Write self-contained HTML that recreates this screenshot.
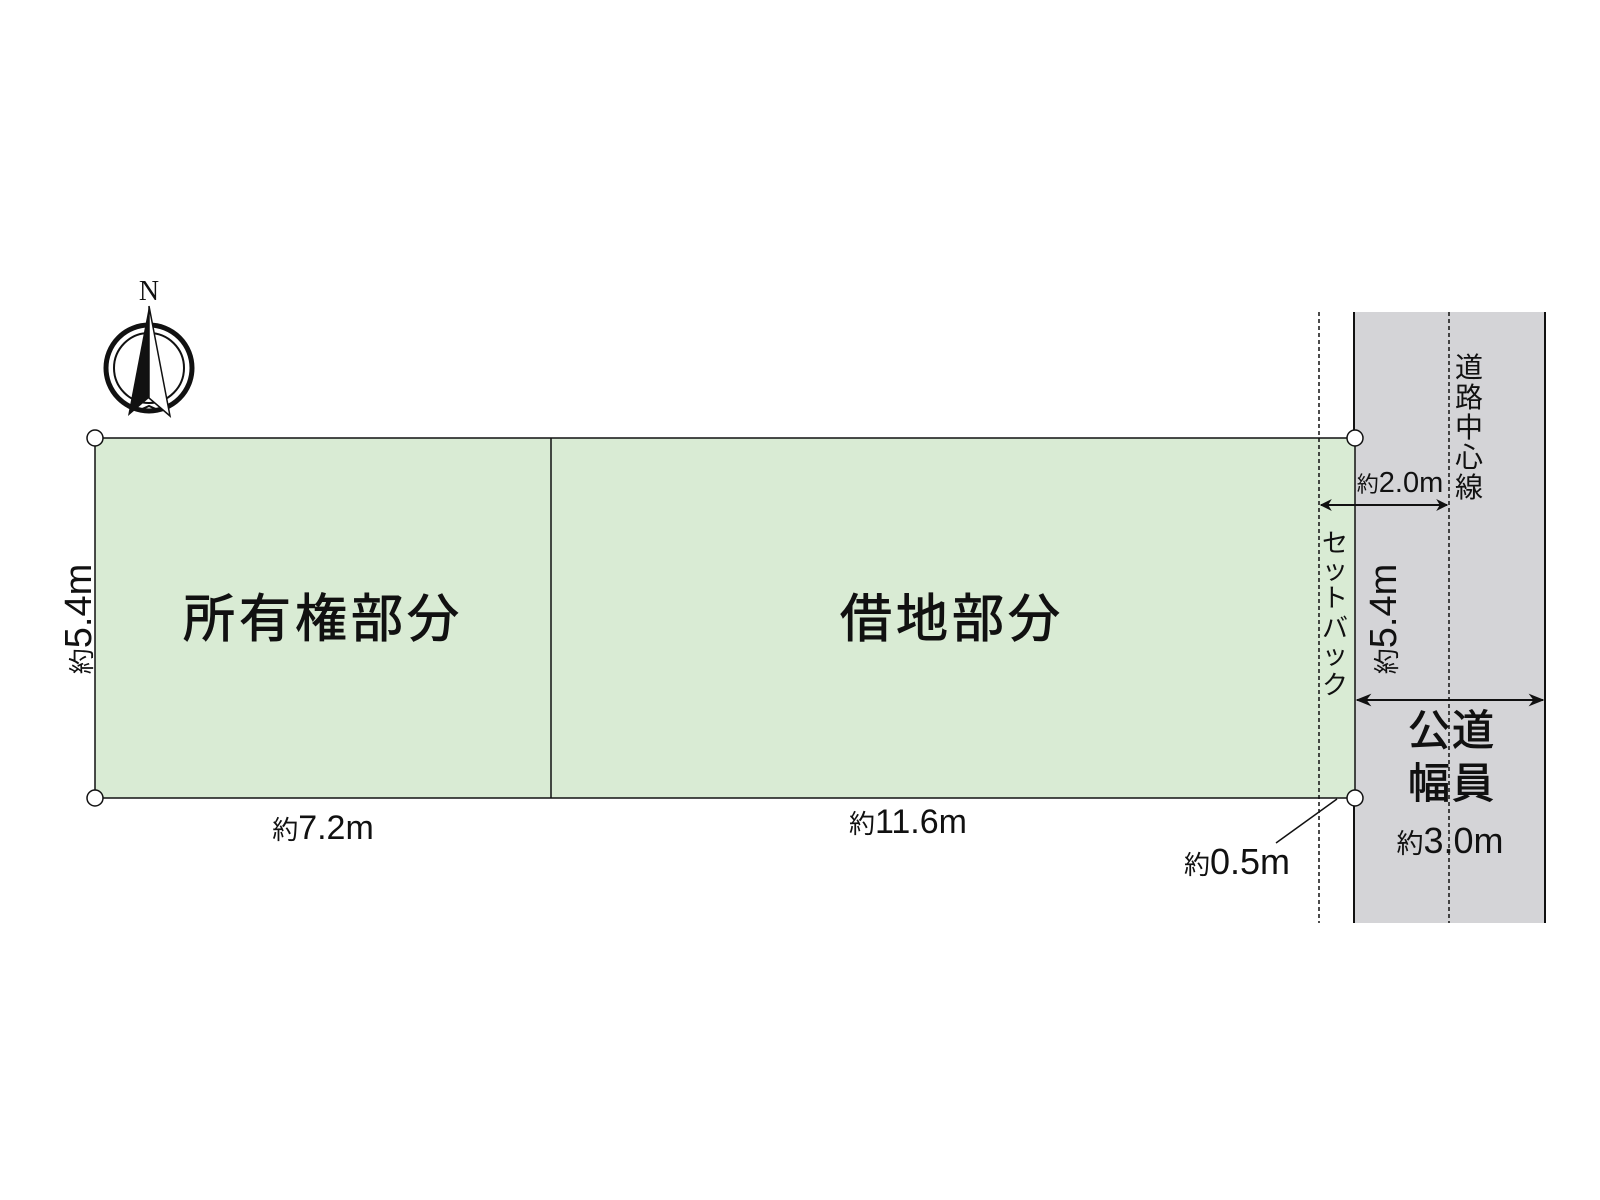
<!DOCTYPE html>
<html><head><meta charset="utf-8"><style>
html,body{margin:0;padding:0;background:#fff;}
svg{display:block;}
text{font-family:"Liberation Sans","Noto Sans CJK JP",sans-serif;fill:#111;}
.b{stroke:#111;stroke-width:0.9;}
</style></head><body>
<svg width="1600" height="1200" viewBox="0 0 1600 1200" xmlns="http://www.w3.org/2000/svg">
<defs>
<marker id="ar" viewBox="0 0 10 10" refX="9" refY="5" markerWidth="12" markerHeight="12" orient="auto-start-reverse" markerUnits="userSpaceOnUse"><path d="M0,0 L10,5 L0,10 L3,5 z" fill="#111"/></marker>
<marker id="ar2" viewBox="0 0 10 10" refX="9" refY="5" markerWidth="16" markerHeight="16" orient="auto-start-reverse" markerUnits="userSpaceOnUse"><path d="M0,1 L10,5 L0,9 L3,5 z" fill="#111"/></marker>
</defs>
<rect x="1354" y="312" width="191" height="611" fill="#d4d4d7"/>
<line x1="1354" y1="312" x2="1354" y2="923" stroke="#111" stroke-width="2"/>
<line x1="1545" y1="312" x2="1545" y2="923" stroke="#111" stroke-width="2"/>
<rect x="95" y="438" width="1260" height="360" fill="#d9ebd4" stroke="#111" stroke-width="1.5"/>
<line x1="551" y1="438" x2="551" y2="798" stroke="#111" stroke-width="1.5"/>
<line x1="1319" y1="312" x2="1319" y2="923" stroke="#111" stroke-width="1.5" stroke-dasharray="4,3"/>
<line x1="1449" y1="312" x2="1449" y2="923" stroke="#111" stroke-width="1.5" stroke-dasharray="4,3"/>
<g fill="#fff" stroke="#111" stroke-width="1.5">
<circle cx="95" cy="438" r="8"/><circle cx="95" cy="798" r="8"/>
<circle cx="1355" cy="438" r="8"/><circle cx="1355" cy="798" r="8"/>
</g>
<text class="b" x="323" y="637" font-size="52" text-anchor="middle" letter-spacing="4">所有権部分</text>
<text class="b" x="952" y="637" font-size="52" text-anchor="middle" letter-spacing="4">借地部分</text>
<text transform="translate(91,619) rotate(-90)" font-size="38" text-anchor="middle"><tspan font-size="26">約</tspan>5.4m</text>
<text x="323" y="839" font-size="34" text-anchor="middle"><tspan font-size="26">約</tspan>7.2m</text>
<text x="908" y="833" font-size="34" text-anchor="middle"><tspan font-size="26">約</tspan>11.6m</text>
<text x="1237" y="874" font-size="36" text-anchor="middle"><tspan font-size="26">約</tspan>0.5m</text>
<line x1="1276" y1="843" x2="1337" y2="799" stroke="#111" stroke-width="1.5"/>
<line x1="1321" y1="505" x2="1447" y2="505" stroke="#111" stroke-width="2" marker-start="url(#ar)" marker-end="url(#ar)"/>
<text x="1400" y="492" font-size="29" text-anchor="middle"><tspan font-size="22">約</tspan>2.0m</text>
<g font-size="28" text-anchor="middle">
<text x="1469" y="377">道</text><text x="1469" y="407">路</text><text x="1469" y="437">中</text><text x="1469" y="467">心</text><text x="1469" y="497">線</text>
</g>
<g font-size="26" text-anchor="middle">
<text x="1335" y="552">セ</text><text x="1335" y="579">ッ</text><text x="1335" y="607">ト</text><text x="1335" y="637">バ</text><text x="1335" y="664">ッ</text><text x="1335" y="694">ク</text>
</g>
<text transform="translate(1396,619) rotate(-90)" font-size="38" text-anchor="middle"><tspan font-size="26">約</tspan>5.4m</text>
<line x1="1357" y1="700" x2="1543" y2="700" stroke="#111" stroke-width="2" marker-start="url(#ar2)" marker-end="url(#ar2)"/>
<text class="b" x="1452" y="745" font-size="42" text-anchor="middle" letter-spacing="2">公道</text>
<text class="b" x="1452" y="798" font-size="42" text-anchor="middle" letter-spacing="2">幅員</text>
<text x="1450" y="853" font-size="36" text-anchor="middle"><tspan font-size="27">約</tspan>3.0m</text>
<text x="149" y="300" font-size="28" text-anchor="middle" style="font-family:'Liberation Serif',serif">N</text>
<circle cx="149" cy="368" r="43" fill="none" stroke="#111" stroke-width="5"/>
<circle cx="149" cy="368" r="35" fill="#fff" stroke="#111" stroke-width="2"/>
<path d="M149,306 L128,416 L149,398 Z" fill="#111"/>
<path d="M149,306 L170,416 L149,398 Z" fill="#fff" stroke="#111" stroke-width="1.5"/>
<path d="M140,410 L149,406 L158,410" fill="none" stroke="#111" stroke-width="2"/>
</svg>
</body></html>
